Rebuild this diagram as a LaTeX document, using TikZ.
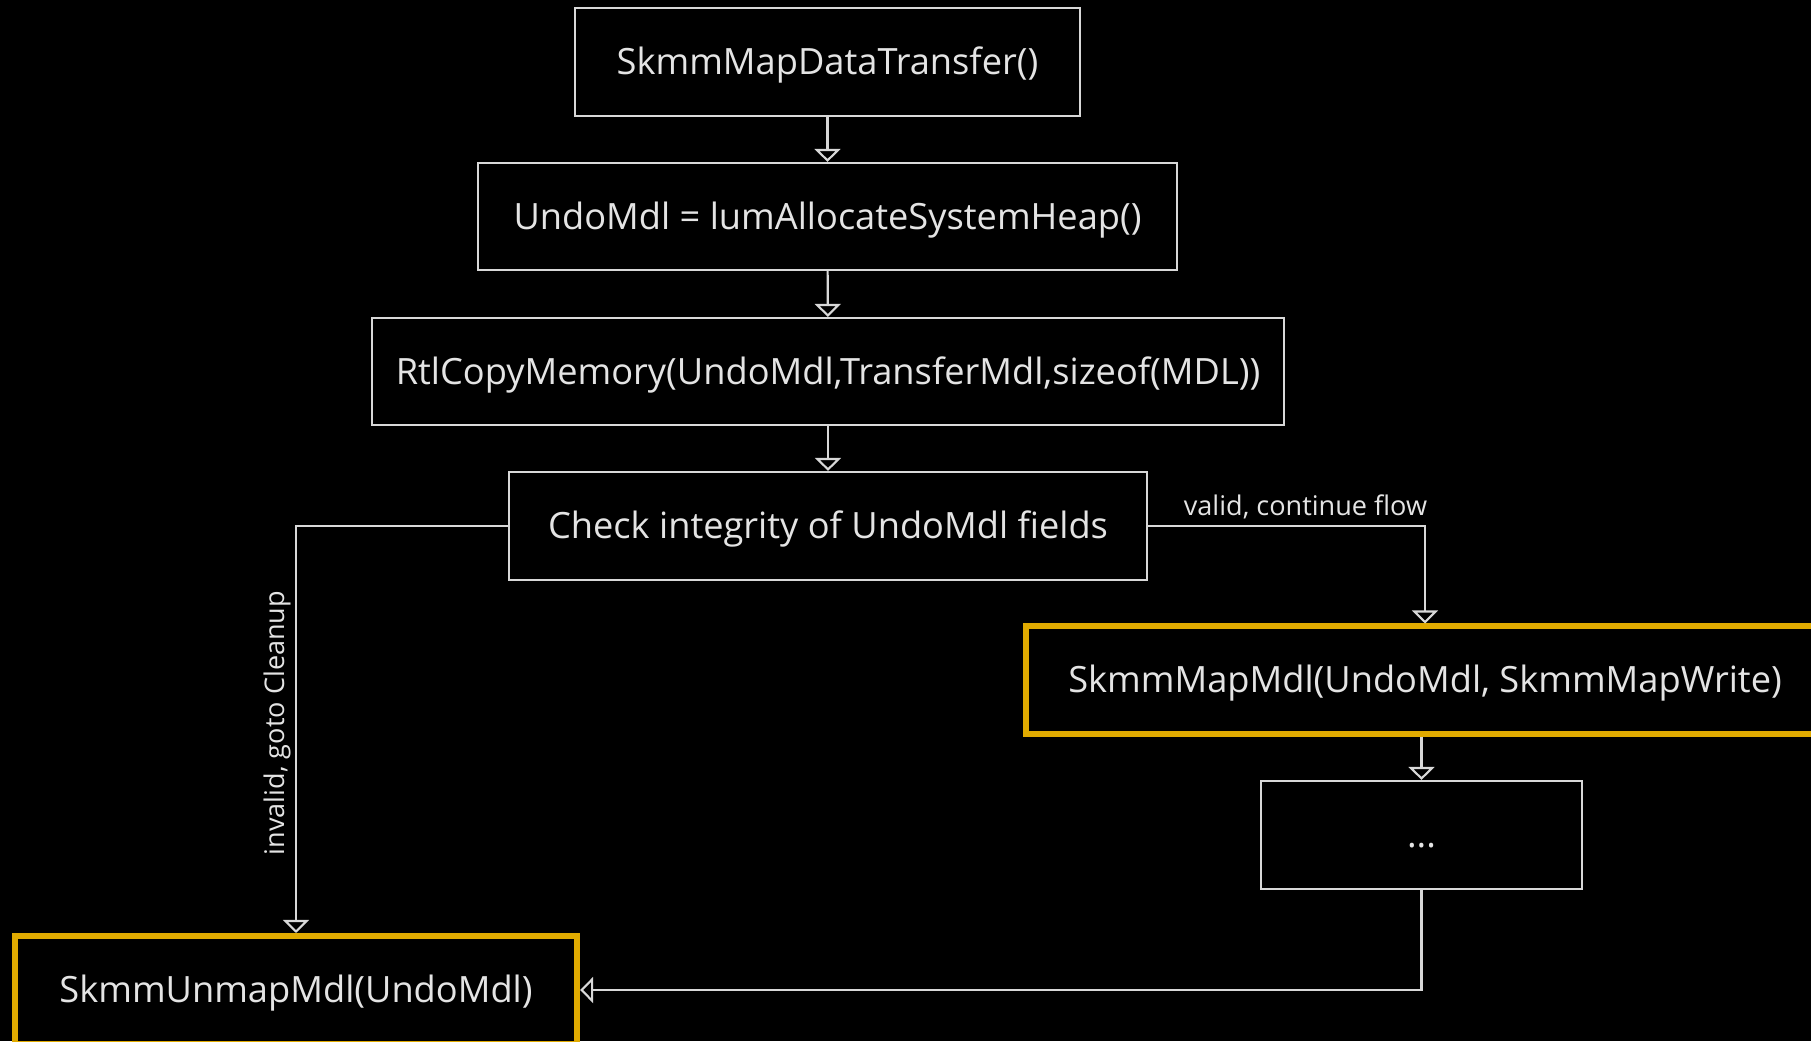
\documentclass[tikz,border=0pt]{standalone}
\usepackage{fontspec}
\setmainfont{Open Sans}
\usetikzlibrary{arrows.meta}
\definecolor{linegray}{RGB}{216,216,216}
\definecolor{textgray}{RGB}{228,228,228}
\definecolor{markorange}{RGB}{224,170,0}

\begin{document}
\begin{tikzpicture}[x=0.01cm,y=-0.01cm,
    box/.style={draw=linegray, line width=0.6pt, fill=black, text=textgray, minimum height=1.08cm, inner sep=0pt, text height=0.714em, text depth=0pt, font=\fontsize{10.3}{12}\selectfont},
    hilite/.style={box, draw=markorange, line width=1.7pt},
    flow/.style={draw=linegray, line width=0.6pt, -{Triangle[open, width=0.26cm, length=0.13cm]}},
    lbl/.style={text=textgray, font=\fontsize{7.7}{9}\selectfont}]
       \fill[black] (0,0) rectangle (1811,1041);
       \useasboundingbox (0,0) rectangle (1811,1041);

       % main column
       \node[box, minimum width=5.05cm] (start) at (827.5,62) {SkmmMapDataTransfer()};
       \node[box, minimum width=6.99cm, minimum height=1.07cm] (alloc) at (827.5,216.5) {UndoMdl = lumAllocateSystemHeap()};
       \node[box, minimum width=9.12cm, minimum height=1.07cm] (copy) at (828,371.5) {RtlCopyMemory(UndoMdl,TransferMdl,sizeof(MDL))};
       \node[box, minimum width=6.38cm] (check) at (828,526) {Check integrity of UndoMdl fields};

       % valid branch
       \node[hilite, minimum width=7.98cm, minimum height=1.07cm] (map) at (1425,680) {SkmmMapMdl(UndoMdl, SkmmMapWrite)};
       \node[box, minimum width=3.21cm] (rest) at (1421.5,835) {...};

       % cleanup
       \node[hilite, minimum width=5.62cm] (unmap) at (296,990) {SkmmUnmapMdl(UndoMdl)};

       \draw[flow] (start) -- (alloc);
       \draw[flow] (alloc) -- (copy);
       \draw[flow] (copy) -- (check);
       \draw[flow] (check.west) -| node[lbl, pos=0.742, rotate=90, above, inner sep=1.2pt] {invalid, goto Cleanup} (unmap.north);
       \draw[flow] (check.east) -| node[lbl, pos=0.284, above, inner sep=1.8pt] {valid, continue flow} (map.north);
       \draw[flow] (rest.north |- map.south) -- (rest.north);
       \draw[flow] (rest.south) |- (unmap.east);
      \end{tikzpicture}
\end{document}
